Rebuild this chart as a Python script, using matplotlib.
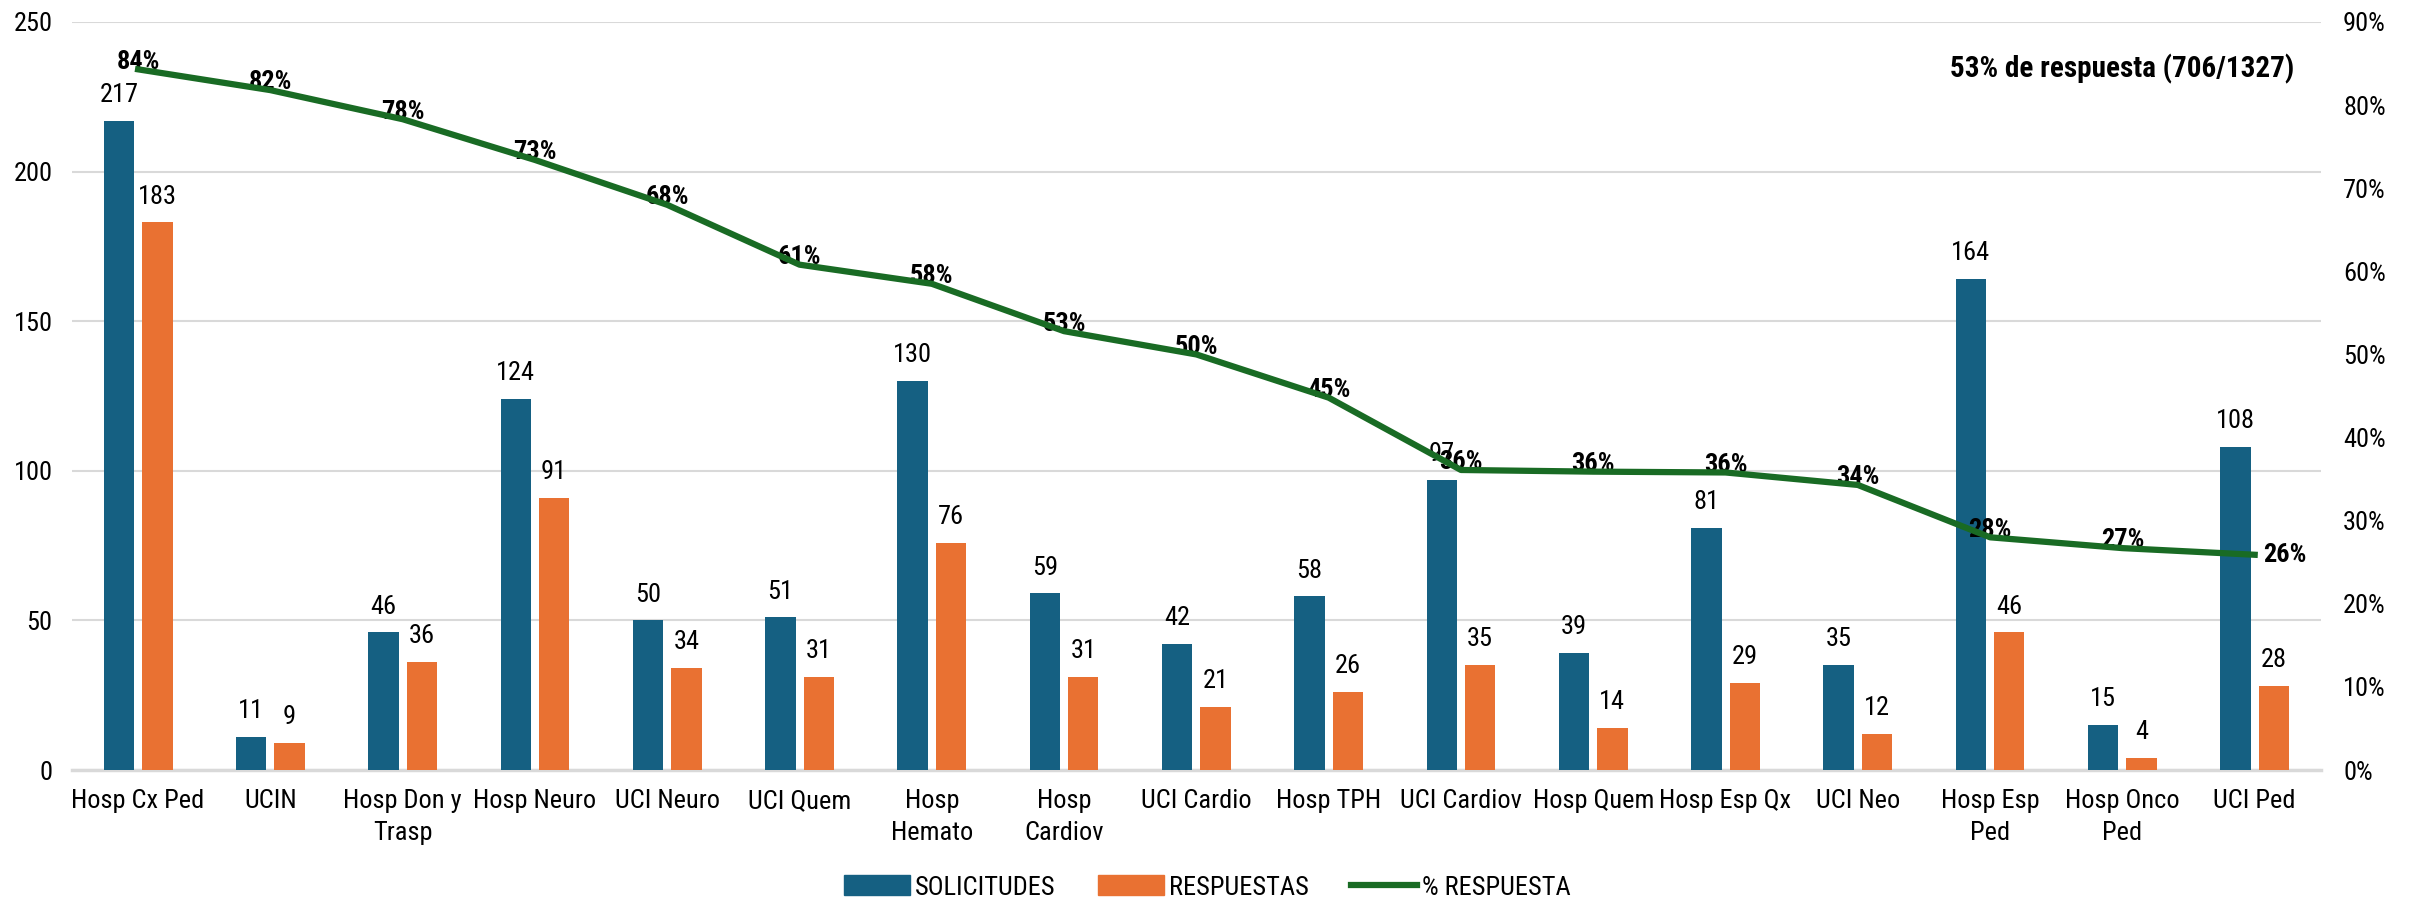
import matplotlib
matplotlib.use("Agg")
import matplotlib.pyplot as plt
from matplotlib.patches import Patch
from matplotlib.lines import Line2D
import numpy as np

# data
categories = ['Hosp Cx Ped', 'UCIN', 'Hosp Don y\nTrasp', 'Hosp Neuro', 'UCI Neuro', 'UCI Quem',
              'Hosp\nHemato', 'Hosp\nCardiov', 'UCI Cardio', 'Hosp TPH', 'UCI Cardiov', 'Hosp Quem',
              'Hosp Esp Qx', 'UCI Neo', 'Hosp Esp\nPed', 'Hosp Onco\nPed', 'UCI Ped']
solicitudes = [217, 11, 46, 124, 50, 51, 130, 59, 42, 58, 97, 39, 81, 35, 164, 15, 108]
respuestas = [183, 9, 36, 91, 34, 31, 76, 31, 21, 26, 35, 14, 29, 12, 46, 4, 28]
pct_respuesta = [0.843, 0.818, 0.783, 0.734, 0.680, 0.608, 0.585, 0.528, 0.500, 0.448,
                 0.361, 0.359, 0.358, 0.343, 0.280, 0.267, 0.259]
left_ticks = [0, 50, 100, 150, 200, 250]
right_ticks = [0, 0.1, 0.2, 0.3, 0.4, 0.5, 0.6, 0.7, 0.8, 0.9]
resumen = '53% de respuesta (706/1327)'

BLUE = '#156082'
ORANGE = '#E97132'
GREEN = '#196B24'
GRID = '#D9D9D9'

plt.rcParams['font.family'] = ['Roboto Condensed', 'DejaVu Sans']

fig = plt.figure(figsize=(24.15, 9), dpi=100)
ax = fig.add_axes([0.0298, 0.1444, 0.9312, 0.8312])
ax2 = ax.twinx()

x = np.arange(len(categories))
w = 0.23
off = 0.145

ax.bar(x - off, solicitudes, w, color=BLUE, zorder=3)
ax.bar(x + off, respuestas, w, color=ORANGE, zorder=3)

for xi, v in zip(x, solicitudes):
    ax.annotate(str(v), (xi - off, v), xytext=(0, 10), textcoords='offset points',
                ha='center', va='bottom', fontsize=19, color='black')
for xi, v in zip(x, respuestas):
    ax.annotate(str(v), (xi + off, v), xytext=(0, 10), textcoords='offset points',
                ha='center', va='bottom', fontsize=19, color='black')

ax.set_xlim(-0.5, len(categories) - 0.5)
ax.set_ylim(0, 250)
ax.set_yticks(left_ticks)
ax.grid(axis='y', color=GRID, lw=1.5, zorder=0)
ax.set_axisbelow(True)
for s in ['top', 'left', 'right']:
    ax.spines[s].set_visible(False)
ax.spines['bottom'].set_color(GRID)
ax.spines['bottom'].set_linewidth(2.5)
ax.set_xticks(x)
ax.set_xticklabels(categories, fontsize=19, linespacing=1.4)
ax.tick_params(axis='x', length=0, pad=14)
ax.tick_params(axis='y', length=0, pad=14, labelsize=19)

ax2.plot(x, pct_respuesta, color=GREEN, lw=4.5, zorder=4)
ax2.set_ylim(0, 0.9)
ax2.set_yticks(right_ticks)
ax2.set_yticklabels(['%d%%' % round(t * 100) for t in right_ticks])
ax2.tick_params(axis='y', length=0, pad=16, labelsize=19)
for s in ['top', 'left', 'right', 'bottom']:
    ax2.spines[s].set_visible(False)

for i, (xi, p) in enumerate(zip(x, pct_respuesta)):
    label = '%d%%' % round(p * 100)
    if i == len(x) - 1:
        ax2.annotate(label, (xi, p), xytext=(6, 0), textcoords='offset points',
                     ha='left', va='center', fontsize=19, fontweight='bold')
    else:
        ax2.annotate(label, (xi, p), xytext=(0, 5.5), textcoords='offset points',
                     ha='center', va='center', fontsize=19, fontweight='bold')

fig.text(0.950, 0.923, resumen, ha='right', va='center', fontsize=21, fontweight='bold')

handles = [Patch(color=BLUE), Patch(color=ORANGE), Line2D([0], [0], color=GREEN, lw=4.5)]
fig.legend(handles, ['SOLICITUDES', 'RESPUESTAS', '% RESPUESTA'], loc='center',
           bbox_to_anchor=(0.5, 0.014), ncol=3, frameon=False, fontsize=19,
           handlelength=2.5, handleheight=0.8, columnspacing=1.6, handletextpad=0.2)

fig.savefig('out.png', dpi=100)
